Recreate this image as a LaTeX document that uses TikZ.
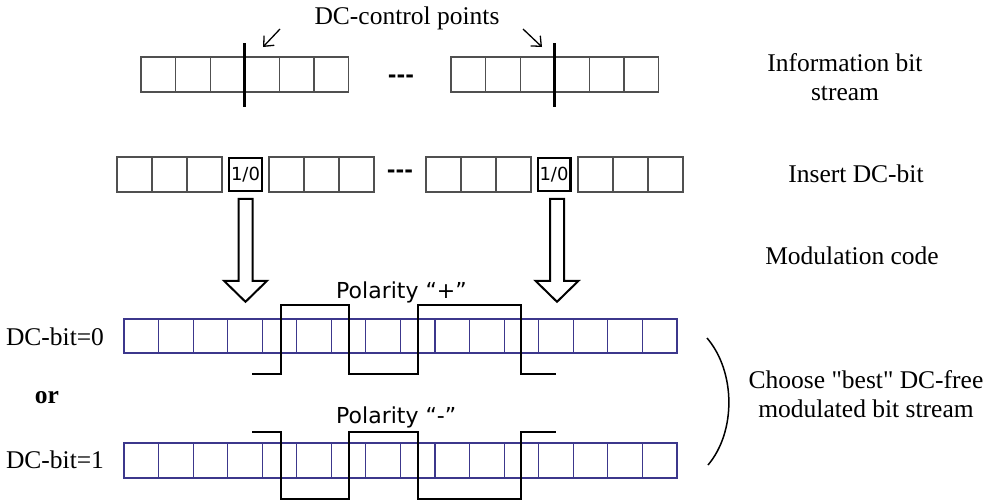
\documentclass[tikz,border=0pt]{standalone}
\usepackage{fontspec}
\setmainfont{Liberation Serif}[Ligatures=TeXOff]
\newfontfamily\sansf{DejaVu Sans}
\usetikzlibrary{arrows.meta,calc}
\definecolor{cellgray}{RGB}{80,80,80}
\definecolor{cellblue}{RGB}{60,55,140}
\begin{document}
\begin{tikzpicture}[x=1pt,y=-1pt,
  cell/.style={draw=cellgray, line width=1.2pt, minimum width=34.6pt, minimum height=35pt, inner sep=0pt, outer sep=0pt},
  dcbox/.style={draw=black, line width=2.4pt, minimum width=32.6pt, minimum height=32.6pt, inner sep=0pt, outer sep=0pt, font=\sansf\fontsize{18}{20}\selectfont},
  mcell/.style={draw=cellblue, line width=1.1pt, minimum width=34.56pt, minimum height=34pt, inner sep=0pt, outer sep=0pt},
  lbl/.style={font=\fontsize{25.5}{29}\selectfont, inner sep=0pt, align=center},
  pol/.style={font=\sansf\fontsize{22}{24}\selectfont, inner sep=0pt, anchor=base west},
  dots/.style={font=\sansf\bfseries\fontsize{21}{22}\selectfont, inner sep=0pt},
  dcline/.style={line width=3pt},
  ptr/.style={line width=1.3pt, -{Straight Barb[length=8pt,width=14pt]}},
  wave/.style={line width=1.6pt, line join=miter},
  hollow/.style={draw, line width=2pt, fill=white, line join=miter}
]
\useasboundingbox (0,0) rectangle (996,501);

% Row 1: information bit stream
\foreach \k in {0,...,5} {
  \node[cell] (ia\k) at ({141+17.3+34.6*\k},74.5) {};
  \node[cell] (ib\k) at ({451+17.3+34.6*\k},74.5) {};
}
\draw[dcline] ($(ia2.north east)+(0,-14)$) -- ($(ia2.south east)+(0,15)$);
\draw[dcline] ($(ib2.north east)+(0,-14)$) -- ($(ib2.south east)+(0,15)$);
\node[dots] (d1) at (401,79) {-{}-{}-};

% Row 2: insert DC-bit
\foreach \x [count=\i] in {134.5,169.5,204.5,286.5,321.5,356.5} {
  \node[cell, minimum width=35pt] (sa\i) at (\x,174.5) {};
}
\foreach \x [count=\i] in {443.5,478.5,513.5,595.5,630.5,665.5} {
  \node[cell, minimum width=35pt] (sb\i) at (\x,174.5) {};
}
\node[dcbox] (l10) at (245.5,174.5) {1/0};
\node[dcbox] (r10) at (554,174.5) {1/0};
\node[dots] (d2) at (400,174) {-{}-{}-};

% Rows 3 and 4: modulated streams
\foreach \k in {0,...,15} {
  \node[mcell] (ma\k) at ({124+17.28+34.56*\k},336) {};
  \node[mcell, minimum height=35pt] (mb\k) at ({124+17.28+34.56*\k},460.5) {};
}

% hollow arrows
\draw[hollow] ($(l10.south)+(-7,8)$) -- ++(0,82) -- ++(-14.5,0) -- ++(21.5,21) -- ++(21.5,-21) -- ++(-14.5,0) -- ++(0,-82) -- cycle;
\draw[hollow] ($(r10.south)+(-4,8)$) -- ++(0,82) -- ++(-14.5,0) -- ++(21.5,21) -- ++(21.5,-21) -- ++(-14.5,0) -- ++(0,-82) -- cycle;

% waveforms
\draw[wave] (252,374) -- (281,374) -- (281,305) -- (349,305) -- (349,374) -- (418,374) -- (418,305) -- (521,305) -- (521,374) -- (556,374);
\draw[wave] (252,432) -- (281,432) -- (281,499) -- (349,499) -- (349,432) -- (418,432) -- (418,499) -- (521,499) -- (521,432) -- (556,432);

% pointers to DC-control points
\coordinate (p1s) at (280,29);
\coordinate (p1e) at (263,47);
\coordinate (p2s) at (523,29);
\coordinate (p2e) at (542,47);
\draw[ptr] (p1s) -- (p1e);
\draw[ptr] (p2s) -- (p2e);

% bracket
\coordinate (bt) at (707,338);
\coordinate (bb) at (708,465);
\draw[line width=1.5pt] (bt) .. controls (736,372) and (736,432) .. (bb);

% labels
\node[lbl, anchor=base] (dcp) at (407,24) {DC-control points};
\node[lbl, anchor=base] (info) at (845,100) {Information bit\\stream};
\node[lbl, anchor=base] (ins) at (856,182) {Insert DC-bit};
\node[lbl, anchor=base] (mod) at (852,264) {Modulation code};
\node[lbl, anchor=base] (b0) at (55,345) {DC-bit=0};
\node[lbl, anchor=base, font=\bfseries\fontsize{25.5}{29}\selectfont] (or) at (47,403) {or};
\node[lbl, anchor=base] (b1) at (55,468) {DC-bit=1};
\node[lbl, anchor=base] (choose) at (866,417) {Choose "best" DC-free\\modulated bit stream};
\node[pol] (polp) at (336,298) {Polarity “+”};
\node[pol] (polm) at (336,423) {Polarity “-”};
\end{tikzpicture}
\end{document}
